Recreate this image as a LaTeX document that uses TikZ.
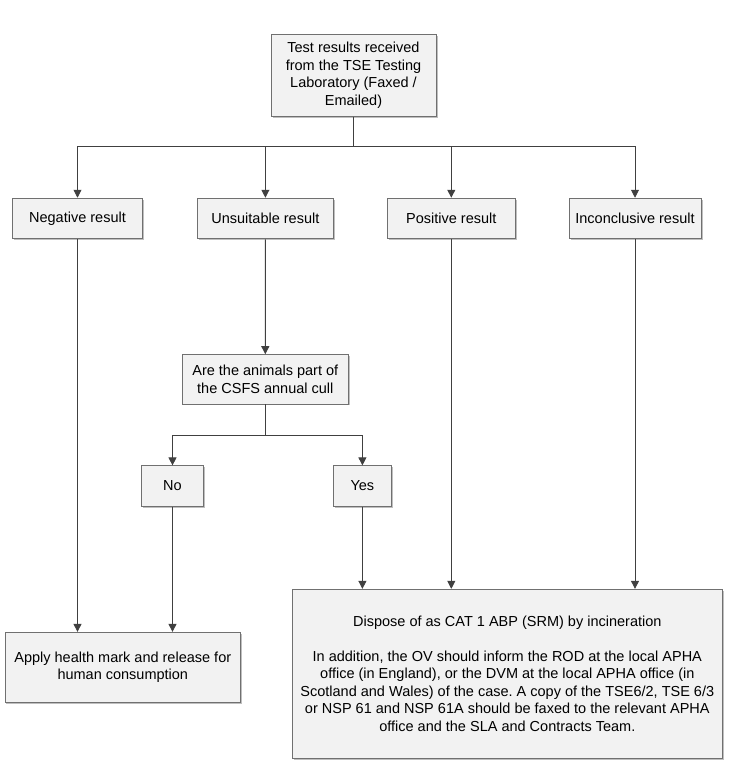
\documentclass[tikz,border=0pt]{standalone}
\usepackage{fontspec}
\setmainfont{Liberation Sans}
\usepackage{tikz}
\usetikzlibrary{arrows.meta,shadows}
\definecolor{boxfill}{RGB}{242,242,242}
\definecolor{boxline}{RGB}{112,112,112}
\definecolor{linkline}{RGB}{64,64,64}
\frenchspacing

\begin{document}
\begin{tikzpicture}[x=1pt, y=-1pt,
  box/.style={draw=boxline, fill=boxfill, line width=0.9pt, inner sep=0pt, align=center,
    font=\fontsize{14.5}{17.4}\selectfont,
    drop shadow={shadow xshift=1.5pt, shadow yshift=-1.5pt, opacity=0.25, fill=black}},
  link/.style={draw=linkline, line width=0.9pt},
  arr/.style={link, -{Triangle[width=8pt,length=8pt]}}]

\useasboundingbox (0,0) rectangle (735,765);

% Lab results
\node[box, minimum width=165pt, minimum height=82pt] (results) at (353.5,75.3)
  {Test results received\\from the TSE Testing\\Laboratory (Faxed /\\Emailed)};

% Result types
\node[box, minimum width=129.6pt, minimum height=40.6pt] (negative) at (77.5,218.5) {Negative result};
\node[box, minimum width=136.7pt, minimum height=40.6pt] (unsuitable) at (265.4,218.5) {Unsuitable result};
\node[box, minimum width=128pt, minimum height=40.6pt] (positive) at (451.3,218.5) {Positive result};
\node[box, minimum width=132pt, minimum height=40.6pt] (inconclusive) at (635,218.5) {Inconclusive result};

% Cull question
\node[box, minimum width=166pt, minimum height=49.3pt] (cull) at (265.3,379.3)
  {Are the animals part of\\the CSFS annual cull};
\node[box, minimum width=61.6pt, minimum height=40.3pt] (no) at (172.5,486) {No};
\node[box, minimum width=57.3pt, minimum height=40.3pt] (yes) at (362.4,486) {Yes};

% Outcomes
\node[box, minimum width=235.7pt, minimum height=70pt] (release) at (122.8,667.3)
  {Apply health mark and release for\\human consumption};
\node[box, minimum width=430pt, minimum height=169pt] (dispose) at (507.3,673.8)
  {Dispose of as CAT 1 ABP (SRM) by incineration\\[17.4pt]
   In addition, the OV should inform the ROD at the local APHA\\
   office (in England), or the DVM at the local APHA office (in\\
   Scotland and Wales) of the case. A copy of the TSE6/2, TSE 6/3\\
   or NSP 61 and NSP 61A should be faxed to the relevant APHA\\
   office and the SLA and Contracts Team.};

% Connectors
\coordinate (resultsplit) at (353.5,146.7);
\coordinate (cullsplit) at (265.3,435);
\draw[link] (results.south) -- (resultsplit);
\draw[arr] (resultsplit) -| (negative.north);
\draw[arr] (resultsplit) -| (unsuitable.north);
\draw[arr] (resultsplit) -| (positive.north);
\draw[arr] (resultsplit) -| (inconclusive.north);
\draw[arr] (unsuitable.south) -- (cull.north);
\draw[link] (cull.south) -- (cullsplit);
\draw[arr] (cullsplit) -| (no.north);
\draw[arr] (cullsplit) -| (yes.north);
\draw[arr] (negative.south) -- (negative.south |- release.north);
\draw[arr] (no.south) -- (no.south |- release.north);
\draw[arr] (yes.south) -- (yes.south |- dispose.north);
\draw[arr] (positive.south) -- (positive.south |- dispose.north);
\draw[arr] (inconclusive.south) -- (inconclusive.south |- dispose.north);

\end{tikzpicture}
\end{document}
